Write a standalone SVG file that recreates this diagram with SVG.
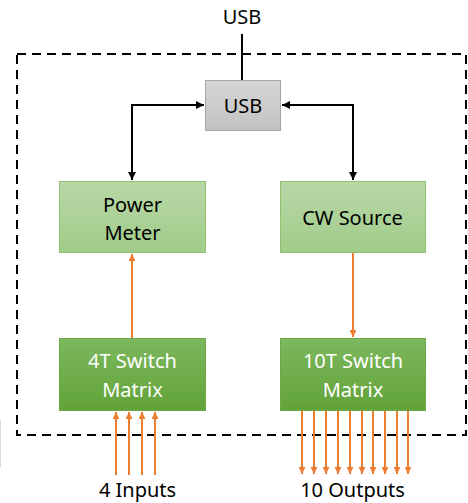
<svg xmlns="http://www.w3.org/2000/svg" width="468" height="503" viewBox="0 0 468 503">
<defs>
<linearGradient id="gGray" x1="0" y1="0" x2="0" y2="1"><stop offset="0" stop-color="#d6d6d6"/><stop offset="1" stop-color="#c2c2c2"/></linearGradient>
<linearGradient id="gLight" x1="0" y1="0" x2="0" y2="1"><stop offset="0" stop-color="#b8d8a8"/><stop offset="1" stop-color="#a1cc88"/></linearGradient>
<linearGradient id="gDark" x1="0" y1="0" x2="0" y2="1"><stop offset="0" stop-color="#7db85e"/><stop offset="1" stop-color="#62a338"/></linearGradient>
<marker id="ab" viewBox="0 0 10 10" refX="10" refY="5" markerWidth="8" markerHeight="8" markerUnits="userSpaceOnUse" orient="auto-start-reverse"><path d="M0,0 L10,5 L0,10 z" fill="#000"/></marker>
<marker id="ao" viewBox="0 0 10 10" refX="10" refY="5" markerWidth="8" markerHeight="7" markerUnits="userSpaceOnUse" orient="auto"><path d="M0,0 L10,5 L0,10 z" fill="#ed7d31"/></marker>
</defs>
<style>
text{font-family:"Noto Sans","Open Sans","Liberation Sans",sans-serif;font-size:20px;text-anchor:middle;fill:#000}
.w{fill:#fff}
.bk{stroke:#000;stroke-width:2;fill:none}
.or{stroke:#ed7d31;stroke-width:2;fill:none}
.light{fill:url(#gLight);stroke:#90c070;stroke-width:1}
.dark{fill:url(#gDark);stroke:#6aa84a;stroke-width:1}
</style>
<rect width="468" height="503" fill="#fff"/>
<line x1="0.5" y1="420" x2="0.5" y2="467" stroke="#d9d9d9" stroke-width="1"/>
<rect id="enclosure" x="17" y="54" width="449" height="381" fill="none" stroke="#000" stroke-width="2" stroke-dasharray="9,6"/>
<text x="242" y="24">USB</text>
<g id="connectors">
<line class="bk" x1="242" y1="34" x2="242" y2="80"/>
<path class="bk" d="M132,180 V105 H204" marker-end="url(#ab)" marker-start="url(#ab)"/>
<path class="bk" d="M353,180 V105 H282" marker-end="url(#ab)" marker-start="url(#ab)"/>
<line class="or" x1="132" y1="338" x2="132" y2="254" marker-end="url(#ao)"/>
<line class="or" x1="353" y1="253" x2="353" y2="337" marker-end="url(#ao)"/>
<line class="or" x1="116" y1="475" x2="116" y2="412" marker-end="url(#ao)"/>
<line class="or" x1="129" y1="475" x2="129" y2="412" marker-end="url(#ao)"/>
<line class="or" x1="142" y1="475" x2="142" y2="412" marker-end="url(#ao)"/>
<line class="or" x1="155" y1="475" x2="155" y2="412" marker-end="url(#ao)"/>
<line class="or" x1="302" y1="411" x2="302" y2="474" marker-end="url(#ao)"/>
<line class="or" x1="314" y1="411" x2="314" y2="474" marker-end="url(#ao)"/>
<line class="or" x1="326" y1="411" x2="326" y2="474" marker-end="url(#ao)"/>
<line class="or" x1="338" y1="411" x2="338" y2="474" marker-end="url(#ao)"/>
<line class="or" x1="350" y1="411" x2="350" y2="474" marker-end="url(#ao)"/>
<line class="or" x1="362" y1="411" x2="362" y2="474" marker-end="url(#ao)"/>
<line class="or" x1="373" y1="411" x2="373" y2="474" marker-end="url(#ao)"/>
<line class="or" x1="385" y1="411" x2="385" y2="474" marker-end="url(#ao)"/>
<line class="or" x1="397" y1="411" x2="397" y2="474" marker-end="url(#ao)"/>
<line class="or" x1="408" y1="411" x2="408" y2="474" marker-end="url(#ao)"/>
</g>
<g id="usb">
<rect x="205.5" y="80.5" width="75" height="50" fill="url(#gGray)" stroke="#a6a6a6" stroke-width="1"/>
<text x="243" y="113">USB</text>
</g>
<g id="power-meter">
<rect class="light" x="59.5" y="181.5" width="146" height="71"/>
<text x="132.5" y="211.5">Power</text>
<text x="132.5" y="240">Meter</text>
</g>
<g id="cw-source">
<rect class="light" x="280.5" y="181.5" width="145" height="71"/>
<text x="352.5" y="225">CW Source</text>
</g>
<g id="switch-4t">
<rect class="dark" x="59.5" y="338.5" width="146" height="72"/>
<text class="w" x="132.5" y="368">4T Switch</text>
<text class="w" x="132.5" y="397">Matrix</text>
</g>
<g id="switch-10t">
<rect class="dark" x="280.5" y="338.5" width="145" height="72"/>
<text class="w" x="353" y="368">10T Switch</text>
<text class="w" x="353" y="397">Matrix</text>
</g>
<text x="137.5" y="497">4 Inputs</text>
<text x="352.5" y="497">10 Outputs</text>
</svg>
